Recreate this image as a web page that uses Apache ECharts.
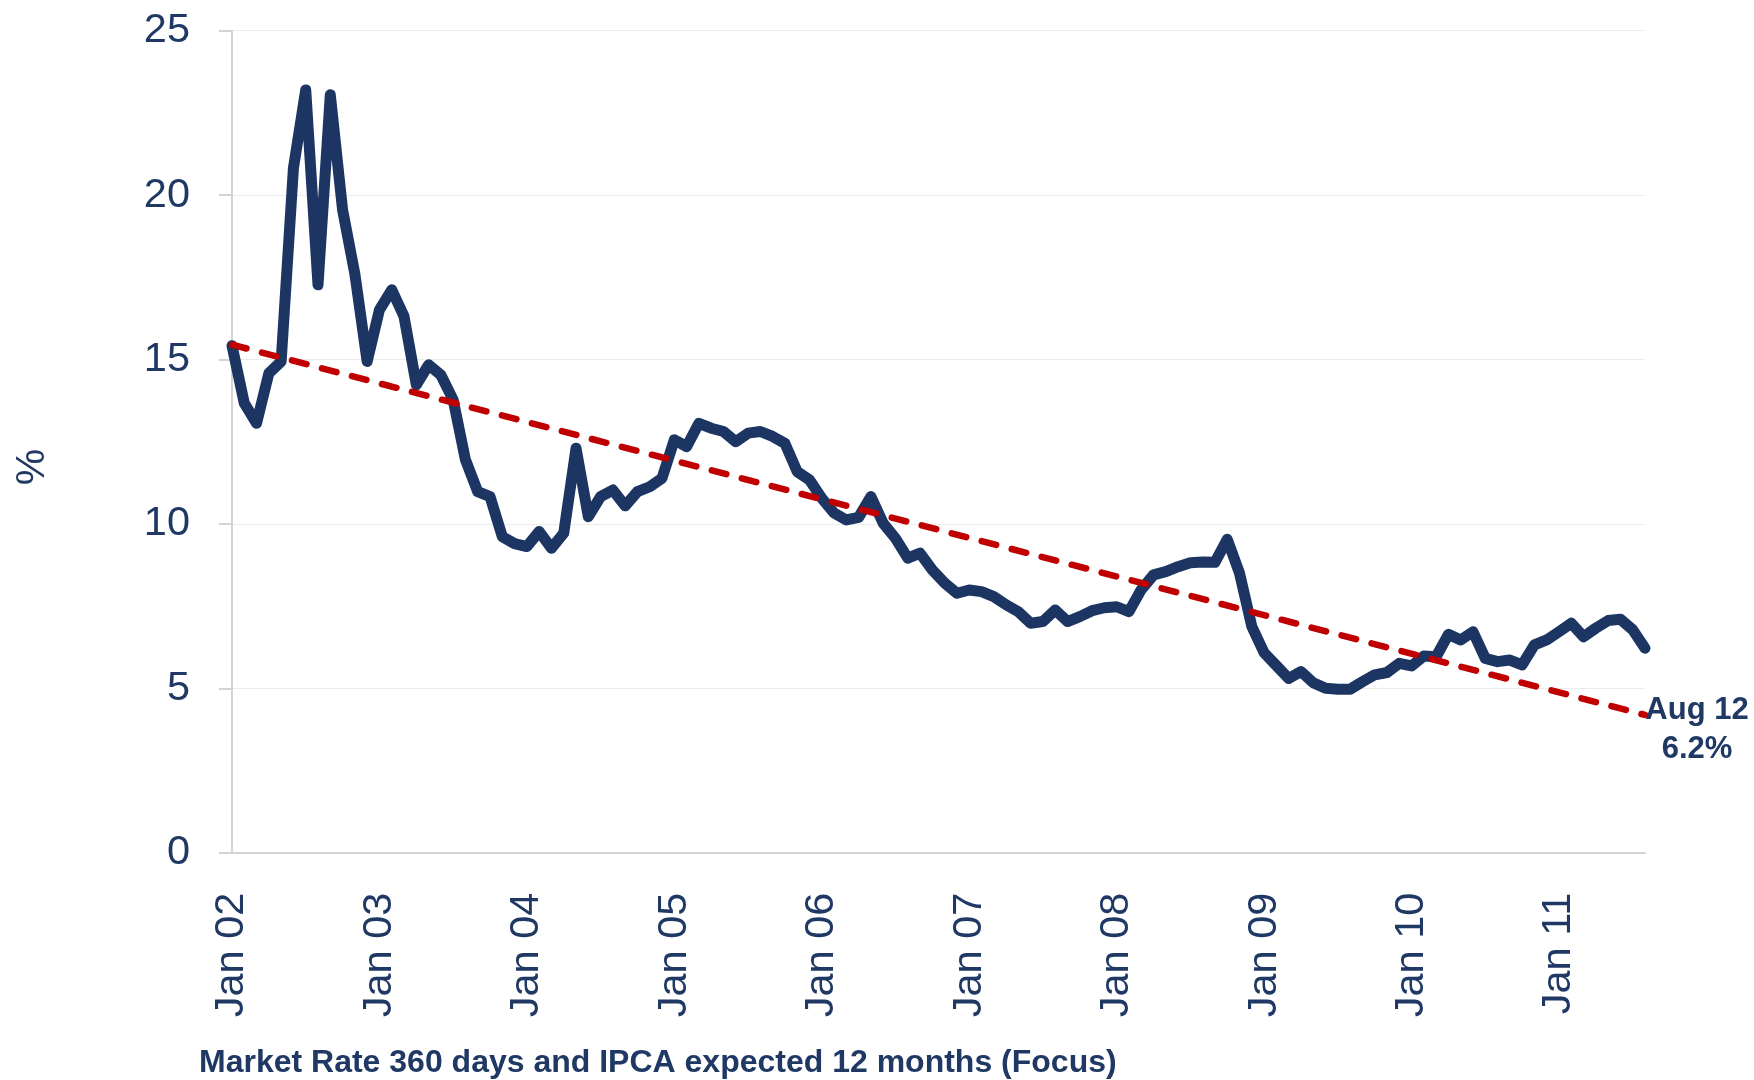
<!DOCTYPE html>
<html>
<head>
<meta charset="utf-8">
<title>Market Rate 360 days and IPCA expected 12 months</title>
<script src="https://cdn.jsdelivr.net/npm/echarts@6.0.0/dist/echarts.min.js"></script>
<style>
  html, body { margin: 0; padding: 0; background: #fff; }
  #chart { width: 1754px; height: 1080px; }
</style>
</head>
<body>
<div id="chart"></div>
<script>
// monthly, Jan 02 .. Aug 11
var years = ['02', '03', '04', '05', '06', '07', '08', '09', '10', '11'];
var monthNames = ['Jan', 'Feb', 'Mar', 'Apr', 'May', 'Jun', 'Jul', 'Aug', 'Sep', 'Oct', 'Nov', 'Dec'];

var marketRate = [
    15.42, 13.67, 13.06, 14.58, 14.94, 20.82, 23.20, 17.27, 23.05, 19.55, 17.60, 14.94,
    16.51, 17.12, 16.31, 14.23, 14.84, 14.53, 13.77, 11.95, 10.98, 10.83, 9.61, 9.40,
    9.31, 9.77, 9.26, 9.72, 12.30, 10.22, 10.83, 11.03, 10.55, 10.98, 11.13, 11.39,
    12.56, 12.35, 13.06, 12.91, 12.81, 12.50, 12.76, 12.81, 12.66, 12.45, 11.59, 11.34,
    10.78, 10.33, 10.12, 10.20, 10.83, 10.02, 9.56, 8.96, 9.11, 8.60, 8.20, 7.89,
    7.99, 7.94, 7.79, 7.54, 7.33, 6.98, 7.03, 7.38, 7.03, 7.18, 7.36, 7.45,
    7.48, 7.33, 8.00, 8.45, 8.55, 8.70, 8.82, 8.84, 8.83, 9.53, 8.50, 6.88,
    6.08, 5.69, 5.30, 5.51, 5.17, 5.00, 4.97, 4.97, 5.20, 5.41, 5.48, 5.76,
    5.68, 5.98, 5.96, 6.64, 6.47, 6.72, 5.91, 5.81, 5.86, 5.71, 6.32, 6.47,
    6.72, 6.98, 6.57, 6.83, 7.06, 7.10, 6.78, 6.22
];

// dashed trend: first and last month
var trendStart = 15.45;
var trendEnd = 4.19;

var yTicks = [0, 5, 10, 15, 20, 25];

var months = [];
years.forEach(function (y) {
    monthNames.forEach(function (m) {
        if (months.length < marketRate.length) months.push(m + ' ' + y);
    });
});
var last = months.length - 1;

var navy = '#1c3563';
var textNavy = '#1f3864';
var font = '"Liberation Sans", Arial, sans-serif';

var chart = echarts.init(document.getElementById('chart'));
var option = {
    animation: false,
    backgroundColor: '#ffffff',
    grid: { left: 232, right: 109, top: 30.7, bottom: 227.3, containLabel: false },
    xAxis: {
        type: 'category',
        data: months,
        boundaryGap: false,
        axisLine: { show: true, lineStyle: { color: '#d4d4d4', width: 2 } },
        axisTick: { show: false },
        axisLabel: {
            interval: 11,
            rotate: 90,
            margin: 40,
            padding: [12, 0, 0, 0],
            color: textNavy,
            fontFamily: font,
            fontSize: 41.5
        },
        splitLine: { show: false }
    },
    yAxis: {
        type: 'value',
        min: yTicks[0],
        max: yTicks[yTicks.length - 1],
        interval: 5,
        axisLine: { show: true, lineStyle: { color: '#d4d4d4', width: 2 } },
        axisTick: { show: true, length: 13, lineStyle: { color: '#d4d4d4', width: 2 } },
        axisLabel: {
            margin: 42,
            color: textNavy,
            fontFamily: font,
            fontSize: 41.5
        },
        splitLine: { show: true, lineStyle: { color: '#ececec', width: 1 } }
    },
    series: [
        {
            name: 'Trend',
            type: 'line',
            data: [[0, trendStart], [last, trendEnd]],
            symbol: 'none',
            lineStyle: { color: '#c00000', width: 6.5, type: [15, 16], cap: 'round' },
            z: 3
        },
        {
            name: 'Market Rate 360 days',
            type: 'line',
            data: marketRate,
            symbol: 'none',
            lineStyle: { color: navy, width: 11, cap: 'round', join: 'round' },
            z: 2
        }
    ],
    graphic: [
        {
            type: 'text',
            x: 32.5,
            y: 467,
            rotation: Math.PI / 2,
            style: {
                text: '%',
                fill: textNavy,
                font: '41px ' + font,
                align: 'center',
                verticalAlign: 'middle'
            }
        },
        {
            type: 'text',
            x: 1697,
            y: 691,
            style: {
                text: 'Aug 12\n6.2%',
                fill: textNavy,
                font: 'bold 31px ' + font,
                lineHeight: 39,
                align: 'center',
                verticalAlign: 'top'
            }
        },
        {
            type: 'text',
            x: 199,
            y: 1063,
            style: {
                text: 'Market Rate 360 days and IPCA expected 12 months (Focus)',
                fill: textNavy,
                font: 'bold 32px ' + font,
                align: 'left',
                verticalAlign: 'middle'
            }
        }
    ]
};
chart.setOption(option);
</script>
</body>
</html>
